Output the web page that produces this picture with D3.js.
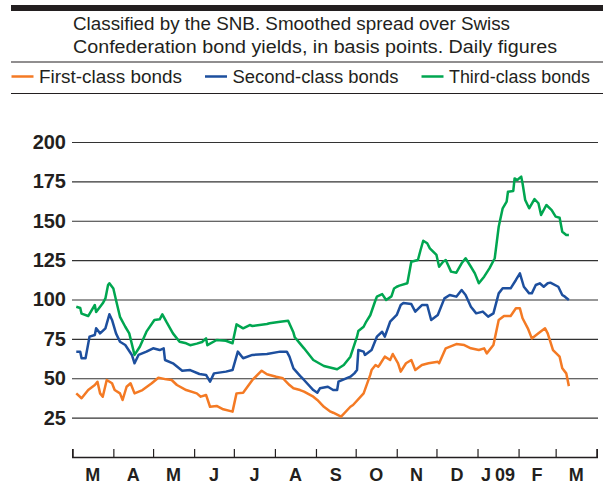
<!DOCTYPE html>
<html>
<head>
<meta charset="utf-8">
<script src="https://cdn.jsdelivr.net/npm/d3@7"></script>
<style>
  body { margin: 0; background: #fff; }
  svg text { font-family: "Liberation Sans", Arial, sans-serif; fill: #231f20; }
</style>
</head>
<body>
<div id="chart"></div>
<script>
// Spread over Swiss Confederation bonds, basis points
const titleLines = ["Classified by the SNB. Smoothed spread over Swiss",
  "Confederation bond yields, in basis points. Daily figures"];
const seriesNames = ["First-class bonds", "Second-class bonds", "Third-class bonds"];
const seriesColors = ["#f47a24", "#1d4f9e", "#00a650"];
const yTicks = [25, 50, 75, 100, 125, 150, 175, 200];
const monthLabels = ["M", "A", "M", "J", "J", "A", "S", "O", "N", "D", "J09", "F", "M"];

const firstDates = ["2008-03-04","2008-03-08","2008-03-13","2008-03-18","2008-03-20","2008-03-22","2008-03-24","2008-03-27","2008-03-31","2008-04-02","2008-04-06","2008-04-08","2008-04-11","2008-04-14","2008-04-17","2008-04-23","2008-04-30","2008-05-05","2008-05-11","2008-05-15","2008-05-19","2008-05-26","2008-06-03","2008-06-06","2008-06-10","2008-06-13","2008-06-18","2008-06-23","2008-06-30","2008-07-03","2008-07-08","2008-07-15","2008-07-22","2008-07-26","2008-07-28","2008-08-02","2008-08-07","2008-08-12","2008-08-15","2008-08-20","2008-08-23","2008-08-30","2008-09-02","2008-09-07","2008-09-12","2008-09-14","2008-09-20","2008-09-27","2008-09-29","2008-10-07","2008-10-12","2008-10-13","2008-10-16","2008-10-18","2008-10-19","2008-10-23","2008-10-27","2008-10-29","2008-11-02","2008-11-04","2008-11-08","2008-11-12","2008-11-15","2008-11-20","2008-11-25","2008-12-02","2008-12-03","2008-12-08","2008-12-16","2008-12-22","2008-12-27","2009-01-02","2009-01-06","2009-01-08","2009-01-13","2009-01-17","2009-01-21","2009-01-26","2009-01-30","2009-02-02","2009-02-04","2009-02-08","2009-02-11","2009-02-16","2009-02-21","2009-02-23","2009-02-27","2009-03-04","2009-03-06","2009-03-09","2009-03-11"];
const firstValues = [40.4,37.3,42.5,45.7,47.8,40.4,38.3,48.9,46.8,42.5,40.4,36.2,44.6,46.8,40.4,42.5,46.8,50.3,49.3,48.9,45.7,42.5,40.4,38.3,39.4,31.9,32.4,30.3,28.8,40.4,40.8,48.9,54.8,52.5,52.1,51,50,45.7,43.6,42.5,41.5,38.3,36.2,31.9,28.8,28.1,25.6,31.9,33,40.4,52.1,55.2,58.4,57.3,58.4,63.7,61.6,65.4,59.5,54.2,59.5,61.6,55.2,58.4,59.5,60.5,59.5,69,71.7,71.1,69,67.9,69,65.8,71.1,87,89.5,89.5,94.4,94.4,88.1,81.7,75.3,78.5,81.7,78.5,67.9,63.7,56.3,53.1,45];

const secondDates = ["2008-03-04","2008-03-07","2008-03-08","2008-03-11","2008-03-14","2008-03-18","2008-03-19","2008-03-22","2008-03-26","2008-03-29","2008-03-31","2008-04-03","2008-04-06","2008-04-10","2008-04-15","2008-04-17","2008-04-20","2008-04-26","2008-05-01","2008-05-06","2008-05-09","2008-05-10","2008-05-16","2008-05-23","2008-05-29","2008-06-05","2008-06-10","2008-06-13","2008-06-16","2008-06-25","2008-06-30","2008-07-04","2008-07-08","2008-07-15","2008-07-26","2008-08-05","2008-08-10","2008-08-12","2008-08-15","2008-08-20","2008-08-23","2008-08-30","2008-09-02","2008-09-04","2008-09-10","2008-09-14","2008-09-17","2008-09-18","2008-09-27","2008-09-30","2008-10-02","2008-10-03","2008-10-07","2008-10-08","2008-10-13","2008-10-17","2008-10-21","2008-10-23","2008-10-27","2008-11-01","2008-11-04","2008-11-06","2008-11-12","2008-11-15","2008-11-20","2008-11-24","2008-11-27","2008-12-02","2008-12-07","2008-12-11","2008-12-16","2008-12-20","2008-12-23","2008-12-27","2008-12-31","2009-01-05","2009-01-09","2009-01-13","2009-01-17","2009-01-20","2009-01-26","2009-01-30","2009-02-02","2009-02-05","2009-02-09","2009-02-11","2009-02-14","2009-02-17","2009-02-20","2009-02-23","2009-02-25","2009-03-03","2009-03-06","2009-03-08","2009-03-11"];
const secondValues = [66.9,66.9,62.7,62.7,76.4,77.5,81.7,78.5,81.7,90.6,87,78.5,73.2,71.1,64.8,59.5,64.8,66.9,69,67.9,69,61.6,59.5,54.8,55.2,52.7,52.1,47.8,53.1,54.2,55.2,66.9,62.7,64.8,65.4,66.9,66.9,63.7,56.3,51.5,48.9,42.5,40.8,43.6,44.6,42.5,42.5,47.8,51,53.1,55.2,67.9,66.9,64.8,67.9,76.4,79.5,76.4,85.9,90.2,96.5,97.8,97.1,92.3,96.5,96.5,87,90.2,100.7,102.9,101.8,106,102.9,95.4,91.2,92.3,89.1,91.2,103.9,107.1,107.1,112.4,116.6,108.1,103.9,103.9,109.2,110.3,108.1,110.3,110.7,108.1,102.9,101.8,99.7];

const thirdDates = ["2008-03-04","2008-03-07","2008-03-08","2008-03-13","2008-03-18","2008-03-19","2008-03-24","2008-03-26","2008-03-28","2008-03-29","2008-04-01","2008-04-03","2008-04-06","2008-04-10","2008-04-13","2008-04-17","2008-04-21","2008-04-26","2008-05-02","2008-05-06","2008-05-08","2008-05-11","2008-05-16","2008-05-21","2008-05-26","2008-05-29","2008-06-03","2008-06-07","2008-06-10","2008-06-11","2008-06-18","2008-06-25","2008-06-30","2008-07-03","2008-07-08","2008-07-13","2008-07-15","2008-07-26","2008-07-28","2008-08-05","2008-08-11","2008-08-15","2008-08-16","2008-08-20","2008-08-23","2008-08-30","2008-09-07","2008-09-17","2008-09-22","2008-09-27","2008-10-02","2008-10-03","2008-10-07","2008-10-09","2008-10-12","2008-10-16","2008-10-17","2008-10-21","2008-10-24","2008-10-28","2008-10-30","2008-11-01","2008-11-03","2008-11-09","2008-11-12","2008-11-17","2008-11-19","2008-11-21","2008-11-24","2008-11-26","2008-12-01","2008-12-03","2008-12-06","2008-12-08","2008-12-12","2008-12-16","2008-12-20","2008-12-23","2008-12-27","2008-12-30","2009-01-02","2009-01-06","2009-01-10","2009-01-14","2009-01-17","2009-01-20","2009-01-23","2009-01-24","2009-01-28","2009-01-29","2009-01-31","2009-02-03","2009-02-04","2009-02-06","2009-02-09","2009-02-13","2009-02-16","2009-02-18","2009-02-22","2009-02-26","2009-03-01","2009-03-04","2009-03-06","2009-03-09","2009-03-11"];
const thirdValues = [95.4,94.6,91,89.5,96.5,92,97.6,100.7,109.2,110.3,107,99.7,89,82.7,78.5,64.8,70,79.6,87,87.4,90.6,85.9,78.5,73.2,72.2,71,72,73,75.3,71,74.3,73.8,72.2,84.2,81.7,83.8,83.2,84.4,84.9,85.9,86.5,79,76,72,69,61.6,57.8,55.7,58.4,63.7,76.4,80,82.7,86,90,99.7,101.8,103.4,99.7,102,107,108.1,108.8,110.3,124,125.1,131.4,137.3,135.7,132.5,128.3,120.8,124,125.1,117.7,117,123,126.2,120.8,116.6,110.3,114.5,119.8,126.2,146.2,157.9,162.1,168.4,168.9,176.9,175.9,178,173.8,163.2,157.9,163.8,161.1,153.7,160,156.8,152.6,151.9,143,141,141];

const width = 603, height = 486;
const parse = d3.timeParse("%Y-%m-%d");

const svg = d3.select("#chart")
  .append("svg")
  .attr("width", width)
  .attr("height", height);

// header
svg.append("rect")
  .attr("x", 11).attr("y", 5)
  .attr("width", width - 11).attr("height", 6)
  .attr("fill", "#231f20");

const titleWidths = [437, 484];
svg.selectAll(".title")
  .data(titleLines)
  .enter()
  .append("text")
  .attr("class", "title")
  .attr("x", 73)
  .attr("y", (d, i) => 30 + i * 23)
  .attr("font-size", 17.5)
  .attr("textLength", (d, i) => titleWidths[i])
  .attr("lengthAdjust", "spacingAndGlyphs")
  .text(d => d);

[62, 93.5].forEach(yy => {
  svg.append("line")
    .attr("x1", 11).attr("x2", width)
    .attr("y1", yy).attr("y2", yy)
    .attr("stroke", "#231f20").attr("stroke-width", 1.2);
});

// legend
const legendX = [11.5, 205, 421.5];
const legendWidths = [143, 166, 141];
const legend = svg.selectAll(".legend")
  .data(seriesNames)
  .enter()
  .append("g")
  .attr("transform", (d, i) => `translate(${legendX[i]},0)`);
legend.append("line")
  .attr("x1", 0).attr("x2", 22)
  .attr("y1", 76.5).attr("y2", 76.5)
  .attr("stroke", (d, i) => seriesColors[i])
  .attr("stroke-width", 2.5);
legend.append("text")
  .attr("x", 27.5).attr("y", 83)
  .attr("font-size", 17.5)
  .attr("textLength", (d, i) => legendWidths[i])
  .attr("lengthAdjust", "spacingAndGlyphs")
  .text(d => d);

// scales
const x = d3.scaleTime()
  .domain([parse("2008-03-01"), parse("2009-04-01")])
  .range([72.3, 596.7]);
const y = d3.scaleLinear()
  .domain([0, 200])
  .range([457, 142]);

// grid + y labels
const grid = svg.append("g")
  .attr("transform", "translate(72,0)")
  .call(d3.axisLeft(y).tickValues(yTicks).tickSize(-526).tickPadding(6));
grid.select(".domain").remove();
grid.selectAll(".tick line").attr("stroke", "#333").attr("stroke-width", 1.1);
grid.selectAll(".tick text")
  .attr("font-size", 20)
  .attr("font-weight", "bold")
  .attr("font-family", "Liberation Sans, Arial, sans-serif")
  .attr("fill", "#231f20");

// x axis
const months = d3.timeMonth.range(parse("2008-03-01"), parse("2009-04-02"));
const xAxis = svg.append("g")
  .attr("transform", "translate(0,457)")
  .call(d3.axisBottom(x).tickValues(months).tickSize(-8).tickFormat(""));
xAxis.select(".domain").attr("stroke", "#231f20").attr("stroke-width", 1.6);
xAxis.selectAll(".tick line").attr("stroke", "#231f20").attr("stroke-width", 1.2);

const mlabels = svg.selectAll(".mlabel")
  .data(monthLabels)
  .enter()
  .append("text")
  .attr("x", (d, i) => (x(months[i]) + x(months[i + 1])) / 2)
  .attr("y", 481)
  .attr("text-anchor", "middle")
  .attr("font-size", 18)
  .attr("font-weight", "bold");
// "J09" is set with a small gap between the month and the year
mlabels.each(function (d) {
  const t = d3.select(this);
  if (d === "J09") {
    t.append("tspan").text("J");
    t.append("tspan").attr("dx", 4).text("09");
  } else {
    t.text(d);
  }
});

// lines
const series = [
  { dates: firstDates, values: firstValues },
  { dates: secondDates, values: secondValues },
  { dates: thirdDates, values: thirdValues }
];
const line = d3.line()
  .x(d => x(d[0]))
  .y(d => y(d[1]));

series.forEach((s, i) => {
  const pts = s.dates.map((d, j) => [parse(d), s.values[j]]);
  svg.append("path")
    .datum(pts)
    .attr("fill", "none")
    .attr("stroke", seriesColors[i])
    .attr("stroke-width", 2.5)
    .attr("stroke-linejoin", "round")
    .attr("d", line);
});
</script>
</body>
</html>
